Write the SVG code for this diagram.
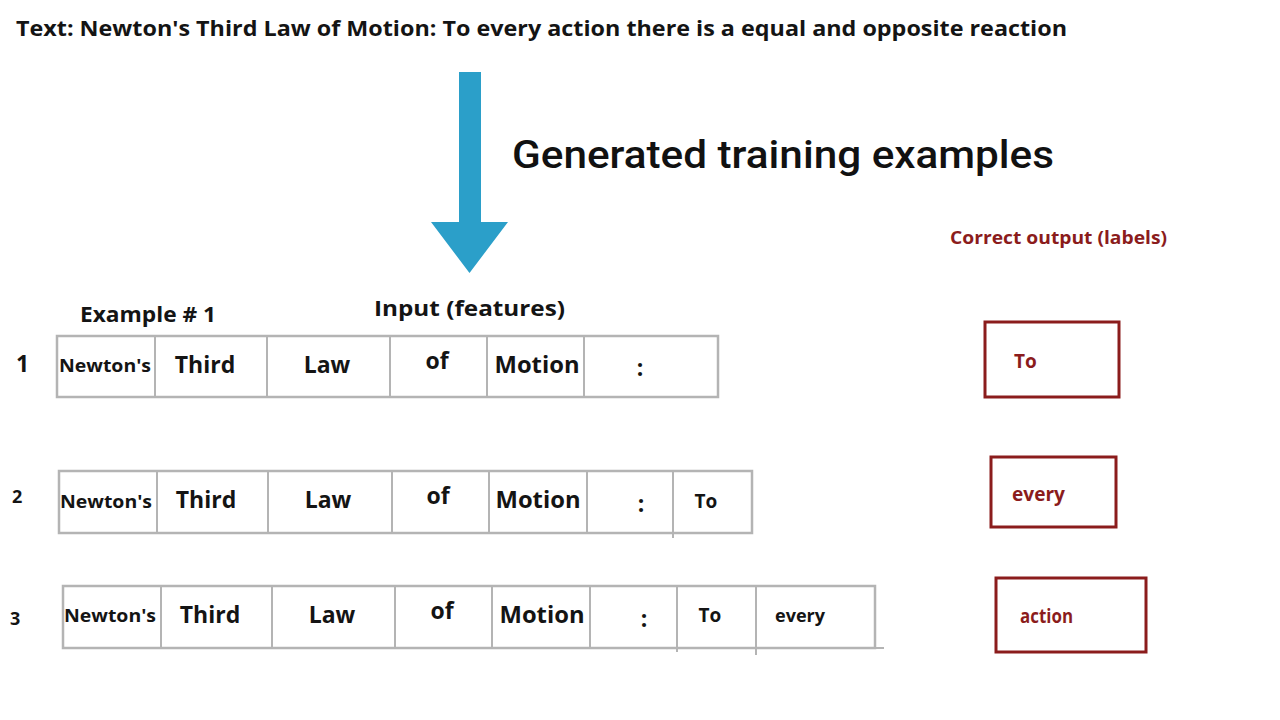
<svg xmlns="http://www.w3.org/2000/svg" width="1280" height="720" viewBox="0 0 1280 720">
<style>
.t{font-family:"Open Sans","Liberation Sans",sans-serif;font-weight:700;fill:#141414}
.cell{fill:#fff;stroke:#b4b4b4;stroke-width:2.5}
.div{stroke:#b4b4b4;stroke-width:2}
.lab{fill:#fff;stroke:#8b1c1c;stroke-width:3}
.red{font-family:"Open Sans","Liberation Sans",sans-serif;font-weight:700;fill:#8b1c1c}
.w{font-size:23px;text-anchor:middle}
.n{font-size:18px;text-anchor:middle}
</style>
<rect width="1280" height="720" fill="#fff"/>
<g id="title">
<text class="t" x="16" y="36" font-size="21" textLength="1051" lengthAdjust="spacingAndGlyphs">Text: Newton's Third Law of Motion: To every action there is a equal and opposite reaction</text>
</g>
<g id="arrow">
<path d="M459,72 H481 V222 H508 L469.5,273 L431,222 H459 Z" fill="#2b9fc9"/>
</g>
<g id="heading">
<text x="512" y="168" font-family="Roboto,'Liberation Sans',sans-serif" font-weight="500" font-size="38" fill="#111" textLength="542" lengthAdjust="spacingAndGlyphs">Generated training examples</text>
</g>
<g id="labels-title">
<text class="red" x="950" y="244" font-size="18" textLength="217" lengthAdjust="spacingAndGlyphs">Correct output (labels)</text>
</g>
<g id="example-title">
<text class="t" x="80" y="322" font-size="22" textLength="136" lengthAdjust="spacingAndGlyphs">Example # 1</text>
<text class="t" x="374" y="316" font-size="22" textLength="191" lengthAdjust="spacingAndGlyphs">Input (features)</text>
</g>
<g id="row1">
<text class="t" x="16" y="372" font-size="23">1</text>
<rect class="cell" x="57" y="336" width="661" height="61"/>
<path class="div" d="M155,336V397M267,336V397M390,336V397M487,336V397M584,336V397"/>
<text class="t n" x="105" y="372" textLength="92" lengthAdjust="spacingAndGlyphs">Newton's</text>
<text class="t w" x="205" y="373">Third</text>
<text class="t w" x="327" y="373">Law</text>
<text class="t w" x="437" y="369">of</text>
<text class="t w" x="537" y="373" textLength="85" lengthAdjust="spacingAndGlyphs">Motion</text>
<text class="t w" x="640" y="376">:</text>
</g>
<g id="row2">
<text class="t" x="12" y="503" font-size="18">2</text>
<rect class="cell" x="59" y="471" width="693" height="62"/>
<path class="div" d="M157,471V533M268,471V533M392,471V533M489,471V533M587,471V533M673,471V538"/>
<text class="t n" x="106" y="508" textLength="92" lengthAdjust="spacingAndGlyphs">Newton's</text>
<text class="t w" x="206" y="508">Third</text>
<text class="t w" x="328" y="508">Law</text>
<text class="t w" x="438" y="504">of</text>
<text class="t w" x="538" y="508" textLength="85" lengthAdjust="spacingAndGlyphs">Motion</text>
<text class="t w" x="641" y="512">:</text>
<text class="t" x="706" y="508" font-size="19" text-anchor="middle">To</text>
</g>
<g id="row3">
<text class="t" x="10" y="625" font-size="18">3</text>
<rect class="cell" x="63" y="586" width="812" height="62"/>
<path class="div" d="M161,586V648M272,586V648M395,586V648M492,586V648M590,586V648M677,586V652M756,586V655M875,648H884"/>
<text class="t n" x="110" y="622" textLength="92" lengthAdjust="spacingAndGlyphs">Newton's</text>
<text class="t w" x="210" y="623">Third</text>
<text class="t w" x="332" y="623">Law</text>
<text class="t w" x="442" y="619">of</text>
<text class="t w" x="542" y="623" textLength="85" lengthAdjust="spacingAndGlyphs">Motion</text>
<text class="t w" x="644" y="627">:</text>
<text class="t" x="710" y="622" font-size="19" text-anchor="middle">To</text>
<text class="t" x="775" y="622" font-size="17" textLength="50" lengthAdjust="spacingAndGlyphs">every</text>
</g>
<g id="label1">
<rect class="lab" x="985" y="322" width="134" height="75"/>
<text class="red" x="1014" y="368" font-size="19">To</text>
</g>
<g id="label2">
<rect class="lab" x="991" y="457" width="125" height="70"/>
<text class="red" x="1012" y="501" font-size="19" textLength="53" lengthAdjust="spacingAndGlyphs">every</text>
</g>
<g id="label3">
<rect class="lab" x="996" y="578" width="150" height="74"/>
<text class="red" x="1020" y="623" font-size="19" textLength="53" lengthAdjust="spacingAndGlyphs">action</text>
</g>
<g id="connectors"/>
</svg>
